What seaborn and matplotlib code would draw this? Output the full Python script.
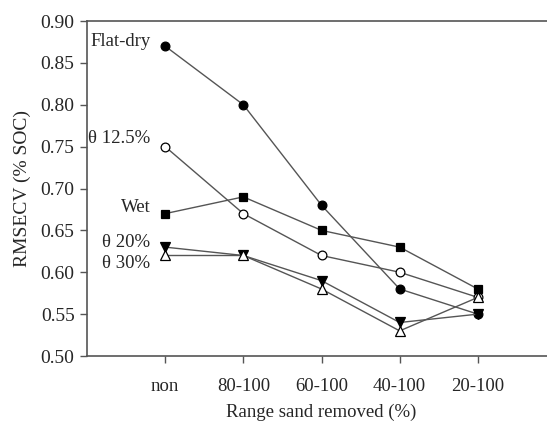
import matplotlib
matplotlib.use("Agg")
import matplotlib.pyplot as plt
import seaborn as sns
import pandas as pd

categories = ["non", "80-100", "60-100", "40-100", "20-100"]
flat_dry = [0.87, 0.80, 0.68, 0.58, 0.55]
theta_125 = [0.75, 0.67, 0.62, 0.60, 0.57]
wet = [0.67, 0.69, 0.65, 0.63, 0.58]
theta_20 = [0.63, 0.62, 0.59, 0.54, 0.55]
theta_30 = [0.62, 0.62, 0.58, 0.53, 0.57]
series_names = ["Flat-dry", "θ 12.5%", "Wet", "θ 20%", "θ 30%"]
y_ticks = [0.50, 0.55, 0.60, 0.65, 0.70, 0.75, 0.80, 0.85, 0.90]

sns.set_style("white")
plt.rcParams["font.family"] = ["Liberation Serif", "DejaVu Serif"]

rows = []
for name, vals in zip(series_names, [flat_dry, theta_125, wet, theta_20, theta_30]):
    for i, v in enumerate(vals):
        rows.append({"series": name, "x": i, "y": v})
df = pd.DataFrame(rows)

styles = {
    "Flat-dry": dict(marker="o", mfc="black", ms=6.3),
    "θ 12.5%": dict(marker="o", mfc="white", ms=6.3),
    "Wet": dict(marker="s", mfc="black", ms=5.5),
    "θ 20%": dict(marker="v", mfc="black", ms=6.5),
    "θ 30%": dict(marker="^", mfc="white", ms=6.5),
}

fig = plt.figure(figsize=(5.47, 4.23), dpi=100)
ax = fig.add_axes([87/547, 67/423, (556-87)/547, 335/423])

for name in series_names:
    sub = df[df["series"] == name]
    st = styles[name]
    sns.lineplot(data=sub, x="x", y="y", ax=ax, color="#555555", lw=1.0,
                 marker=st["marker"], markersize=st["ms"],
                 markerfacecolor=st["mfc"], markeredgecolor="black",
                 markeredgewidth=0.9, legend=False)

label_pos = {
    "Flat-dry": (-0.19, 0.875),
    "θ 12.5%": (-0.19, 0.760),
    "Wet": (-0.18, 0.677),
    "θ 20%": (-0.19, 0.635),
    "θ 30%": (-0.19, 0.611),
}
for name in series_names:
    x, y = label_pos[name]
    ax.text(x, y, name, ha="right", va="center", fontsize=13.5)

ax.set_xlim(-1, 5)
ax.set_ylim(0.50, 0.90)
ax.set_xticks(range(len(categories)))
ax.set_xticklabels(categories, fontsize=13.5)
ax.set_yticks(y_ticks)
ax.set_yticklabels([f"{t:.2f}" for t in y_ticks], fontsize=14)
ax.tick_params(axis="both", direction="out", length=5, width=1, color="#555555",
               bottom=True, left=True, pad=4)
ax.tick_params(axis="x", pad=11)
for s in ["left", "bottom", "top"]:
    ax.spines[s].set_color("#555555")
    ax.spines[s].set_linewidth(1.2)
ax.spines["right"].set_visible(False)
ax.set_xlabel("Range sand removed (%)", fontsize=13.5, labelpad=6)
ax.set_ylabel("RMSECV (% SOC)", fontsize=14, labelpad=7)

fig.savefig("out.png", dpi=100)
